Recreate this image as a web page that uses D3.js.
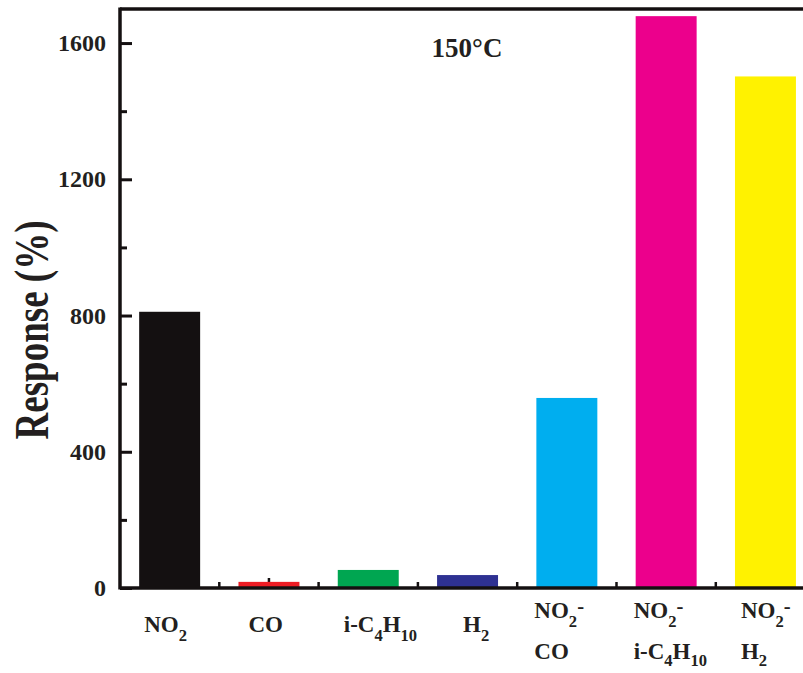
<!DOCTYPE html>
<html>
<head>
<meta charset="utf-8">
<script src="https://cdn.jsdelivr.net/npm/d3@7"></script>
<style>
  html, body { margin: 0; padding: 0; background: #fff; }
  svg { display: block; }
  text { font-family: "Liberation Serif", "Times New Roman", serif; font-weight: bold; fill: #231f20; }
</style>
</head>
<body>
<svg id="chart" width="803" height="673"></svg>
<script>
// ---- data ----
const categories = ["NO2", "CO", "i-C4H10", "H2", "NO2-CO", "NO2-i-C4H10", "NO2-H2"];
const responses = [811, 18, 53, 38, 558, 1679, 1502];
const barColors = ["#141011", "#ed1c24", "#00a651", "#2e3192", "#00aeef", "#ec008c", "#fff200"];
// label lines; _{..} subscript, ^{..} superscript
const xLabels = [
  ["NO_{2}"],
  ["CO"],
  ["i-C_{4}H_{10}"],
  ["H_{2}"],
  ["NO_{2}^{-}", "CO"],
  ["NO_{2}^{-}", "i-C_{4}H_{10}"],
  ["NO_{2}^{-}", "H_{2}"]
];
const yTicks = [0, 400, 800, 1200, 1600];
const yMinorTicks = [200, 600, 1000, 1400];
const yTitle = "Response (%)";
const annotation = "150°C";

// ---- layout ----
const svg = d3.select("#chart");
const x0 = 120, yBase = 588, yTop = 9, W = 803;
const step = 99.3;
const x = d3.scaleBand().domain(categories)
  .range([x0, x0 + step * categories.length])
  .paddingInner(0.386).paddingOuter(0.193);
const y = d3.scaleLinear().domain([0, 1700]).range([yBase, yTop]);
const labelNudge = [5, 10, 6, 26, -2, -2, 6];

// x ticks (inward, behind bars)
const tickG = svg.append("g");
categories.forEach(c => {
  const cx = x(c) + x.bandwidth() / 2;
  tickG.append("line").attr("x1", cx).attr("x2", cx).attr("y1", yBase).attr("y2", yBase - 10)
    .attr("stroke", "#141011").attr("stroke-width", 2.5);
});
categories.slice(0, -1).forEach(c => {
  const bx = x(c) + x.bandwidth() + (x.step() - x.bandwidth()) / 2;
  tickG.append("line").attr("x1", bx).attr("x2", bx).attr("y1", yBase).attr("y2", yBase - 6)
    .attr("stroke", "#141011").attr("stroke-width", 2.5);
});

// bars
svg.append("g").selectAll("rect").data(categories).join("rect")
  .attr("x", c => x(c))
  .attr("width", x.bandwidth())
  .attr("y", (c, i) => y(responses[i]))
  .attr("height", (c, i) => yBase - y(responses[i]))
  .attr("fill", (c, i) => barColors[i]);

// y axis with inward ticks
const yAxis = d3.axisRight(y).tickValues(yTicks).tickSize(12).tickFormat("");
const yg = svg.append("g").attr("transform", `translate(${x0},0)`).call(yAxis);
yg.select(".domain").remove();
yg.selectAll(".tick line").attr("stroke", "#141011").attr("stroke-width", 3);
const yMinor = d3.axisRight(y).tickValues(yMinorTicks).tickSize(7).tickFormat("");
const ymg = svg.append("g").attr("transform", `translate(${x0},0)`).call(yMinor);
ymg.select(".domain").remove();
ymg.selectAll(".tick line").attr("stroke", "#141011").attr("stroke-width", 3);

svg.append("g").selectAll("text").data(yTicks).join("text")
  .attr("x", x0 - 14).attr("y", d => y(d) + 8)
  .attr("text-anchor", "end").attr("font-size", 24)
  .text(d => d);

// frame lines
svg.append("line").attr("x1", x0).attr("x2", x0).attr("y1", yTop - 1.5).attr("y2", yBase + 1.5)
  .attr("stroke", "#141011").attr("stroke-width", 3.5);
svg.append("line").attr("x1", x0).attr("x2", W).attr("y1", yTop).attr("y2", yTop)
  .attr("stroke", "#141011").attr("stroke-width", 3.5);
svg.append("line").attr("x1", x0).attr("x2", W).attr("y1", yBase).attr("y2", yBase)
  .attr("stroke", "#141011").attr("stroke-width", 3.5);

// rich label helper
function addRich(textSel, str, size, subShift) {
  const re = /([_^])\{([^}]*)\}|([^_^]+)/g;
  let m, shift = 0;
  while ((m = re.exec(str)) !== null) {
    let target = 0, fs = size, t;
    if (m[3] !== undefined) { t = m[3]; target = 0; }
    else if (m[1] === "_") { t = m[2]; target = size * subShift; fs = size * 0.72; }
    else { t = m[2]; target = -size * 0.2; fs = size * 0.9; }
    textSel.append("tspan").attr("dy", target - shift).attr("font-size", fs).text(t);
    shift = target;
  }
}

// x labels
const xl = svg.append("g");
categories.forEach((c, i) => {
  const lines = xLabels[i];
  const bx = x(c) + labelNudge[i];
  if (lines.length === 1) {
    const t = xl.append("text").attr("x", bx).attr("y", 632).attr("font-size", 23);
    addRich(t, lines[0], 23, 0.38);
  } else {
    lines.forEach((ln, k) => {
      const t = xl.append("text").attr("x", bx).attr("y", 618 + k * 41).attr("font-size", 23);
      addRich(t, ln, 23, k === 0 ? 0.38 : 0.3);
    });
  }
});

// y title
svg.append("text")
  .attr("transform", `translate(48, ${330}) rotate(-90) scale(1, 1.3)`)
  .attr("text-anchor", "middle").attr("font-size", 37)
  .text(yTitle);

// annotation
svg.append("text").attr("x", 467).attr("y", 57).attr("text-anchor", "middle")
  .attr("font-size", 27).text(annotation);
</script>
</body>
</html>
